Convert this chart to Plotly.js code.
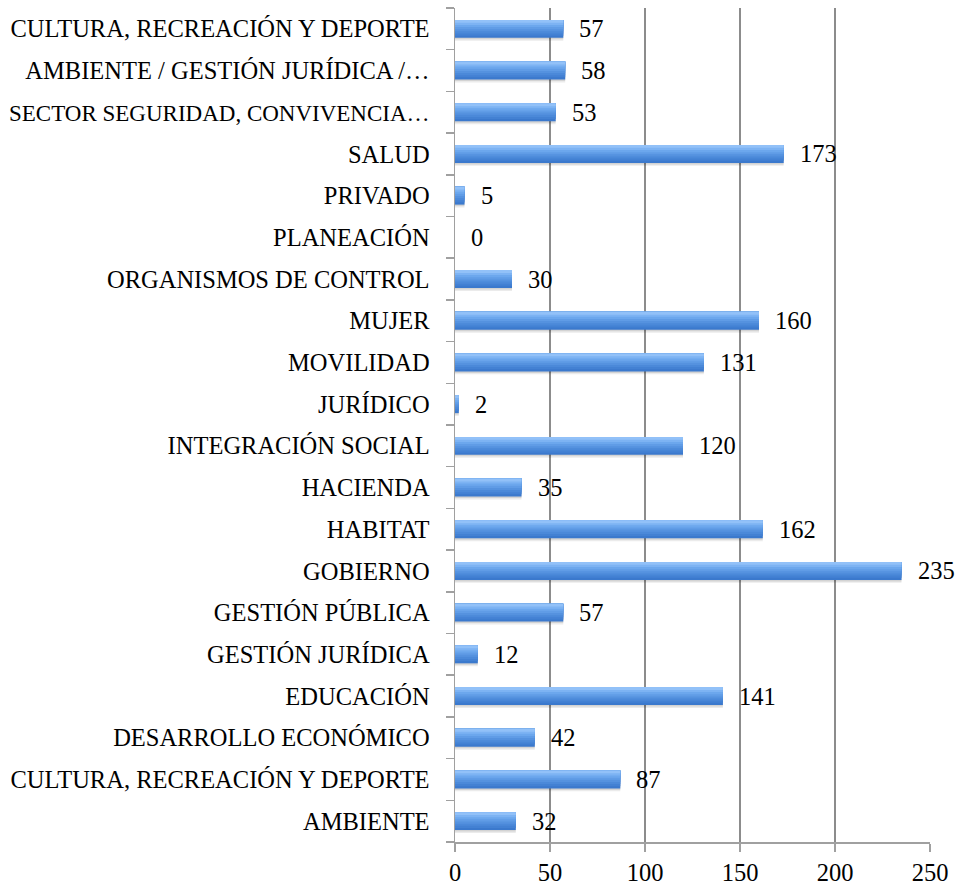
<!DOCTYPE html>
<html>
<head>
<meta charset="utf-8">
<script src="https://cdn.plot.ly/plotly-3.0.1.min.js"></script>
<style>html,body{margin:0;padding:0;background:#fff;}#chart{width:963px;height:890px;}</style>
</head>
<body>
<div id="chart"></div>
<script>
// Categories listed bottom to top
const categories = [
  "AMBIENTE",
  "CULTURA, RECREACIÓN Y DEPORTE",
  "DESARROLLO ECONÓMICO",
  "EDUCACIÓN",
  "GESTIÓN JURÍDICA",
  "GESTIÓN PÚBLICA",
  "GOBIERNO",
  "HABITAT",
  "HACIENDA",
  "INTEGRACIÓN SOCIAL",
  "JURÍDICO",
  "MOVILIDAD",
  "MUJER",
  "ORGANISMOS DE CONTROL",
  "PLANEACIÓN",
  "PRIVADO",
  "SALUD",
  "SECTOR SEGURIDAD, CONVIVENCIA…",
  "AMBIENTE / GESTIÓN JURÍDICA /…",
  "CULTURA, RECREACIÓN Y DEPORTE"
];
const values = [32, 87, 42, 141, 12, 57, 235, 162, 35, 120, 2, 131, 160, 30, 0, 5, 173, 53, 58, 57];
const xTicks = [0, 50, 100, 150, 200, 250];
// labels set slightly tighter so they fit in the left margin
const compactLabels = ["SECTOR SEGURIDAD, CONVIVENCIA…"];

const positions = categories.map((c, i) => i);
const FONT = "Liberation Serif, Times New Roman, serif";
const FS = 24.5;
const tickLabels = categories.map(c => compactLabels.includes(c)
  ? '<span style="font-size:23px">' + c + '</span>' : c);

const barW = 0.43;
const half = barW / 2;
const traces = [];
// soft shadow under bars
traces.push({type:'bar', orientation:'h', x: values, y: positions, width: barW, offset: -half - 0.07,
  marker:{color:'rgba(0,0,0,0.08)', line:{width:0}}, hoverinfo:'skip'});
traces.push({type:'bar', orientation:'h', x: values, y: positions, width: barW, offset: -half - 0.035,
  marker:{color:'rgba(0,0,0,0.10)', line:{width:0}}, hoverinfo:'skip'});
// vertical gradient: dark bottom -> light top
const bands = [
  [1.00, '#3b79cd'],
  [0.88, '#4381d3'],
  [0.76, '#4b89d9'],
  [0.64, '#5592df'],
  [0.52, '#609ce6'],
  [0.40, '#6ca7ed'],
  [0.28, '#7db3f3'],
  [0.16, '#92c1f8']
];
bands.forEach(([f, col]) => {
  traces.push({type:'bar', orientation:'h', x: values, y: positions, width: barW * f, offset: half - barW * f,
    marker:{color: col, line:{width:0}}, hoverinfo:'skip'});
});

const annotations = values.map((v, i) => ({
  x: v, y: positions[i], text: String(v), xanchor: 'left', yanchor: 'middle', xshift: 14,
  showarrow: false, font: {family: FONT, size: FS, color: '#000'}
}));

const layout = {
  width: 963, height: 890,
  margin: {l: 455, r: 33, t: 8, b: 48, pad: 0},
  paper_bgcolor: '#fff', plot_bgcolor: '#fff',
  barmode: 'overlay',
  showlegend: false,
  font: {family: FONT, size: FS, color: '#000'},
  xaxis: {
    range: [0, 250], tickvals: xTicks, ticktext: xTicks.map(String),
    showgrid: true, gridcolor: '#8c8c8c', gridwidth: 1.5,
    zeroline: false, showline: true, linecolor: '#a0a0a0', linewidth: 1.5,
    ticks: 'outside', ticklen: 8, tickcolor: '#a0a0a0', tickwidth: 1.5,
    tickfont: {family: FONT, size: FS, color: '#000'}, fixedrange: true
  },
  yaxis: {
    range: [-0.5, categories.length - 0.5], tickvals: positions, ticktext: tickLabels,
    showgrid: false, zeroline: false, showline: true, linecolor: '#a0a0a0', linewidth: 1.5,
    ticks: '', ticklabelstandoff: 19,
    minor: {tick0: -0.5, dtick: 1, ticks: 'outside', ticklen: 8, tickcolor: '#a0a0a0', tickwidth: 1.5, showgrid: false},
    tickfont: {family: FONT, size: FS, color: '#000'}, fixedrange: true
  },
  annotations: annotations
};

Plotly.newPlot('chart', traces, layout, {displayModeBar: false, staticPlot: true});
</script>
</body>
</html>
